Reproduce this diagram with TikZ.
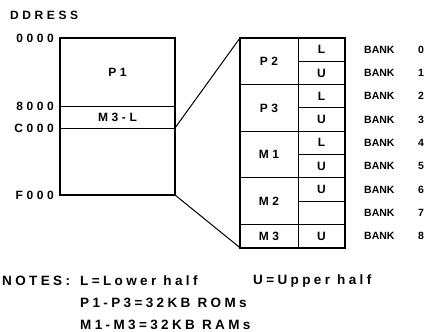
\documentclass[tikz,border=0pt]{standalone}
\usepackage{fontspec}
\setmainfont{Liberation Sans}
\newfontfamily\widefont{Liberation Sans}[LetterSpace=30]
\newfontfamily\notefont{Liberation Sans}[LetterSpace=25]
\usepackage{tikz}
\usetikzlibrary{positioning}
\tikzset{
  cell/.style  ={draw, line width=1pt, inner sep=0pt, outer sep=0pt,
                 font=\widefont\bfseries\fontsize{12}{14}\selectfont},
  frame/.style ={draw, line width=2.2pt},
  zoomln/.style={draw, line width=1pt},
  addr/.style  ={inner sep=0pt, font=\widefont\bfseries\fontsize{12}{14}\selectfont},
  bank/.style  ={anchor=west, inner sep=0pt, font=\bfseries\fontsize{10.5}{12}\selectfont},
  note/.style  ={anchor=west, inner sep=0pt, font=\notefont\bfseries\fontsize{13.5}{15}\selectfont},
}

\begin{document}
\begin{tikzpicture}[x=1pt,y=-1pt]
\useasboundingbox (0,0) rectangle (432,332);
\def\rh{23.3}

% memory map
\node[addr,anchor=west] (addrhd) at (10,15) {DDRESS};
\node[cell,minimum width=115,minimum height=68] (p1) at (117.5,72) {P1};
\node[cell,minimum width=115,minimum height=22,below=0pt of p1] (m3l) {M3-L};
\node[cell,minimum width=115,minimum height=67,below=0pt of m3l] (low) {};
\draw[frame] (p1.north west) rectangle (low.south east);
\node[addr,left=6pt of p1.north west] (a0) {0000};
\node[addr,left=6pt of p1.south west] (a1) {8000};
\node[addr,left=6pt of m3l.south west] (a2) {C000};
\node[addr,left=6pt of low.south west] (a3) {F000};

% banks
\node[cell,minimum width=58,minimum height=2*\rh] (p2) at (269,{38+\rh}) {P2};
\node[cell,minimum width=58,minimum height=2*\rh,below=0pt of p2] (p3) {P3};
\node[cell,minimum width=58,minimum height=2*\rh,below=0pt of p3] (m1) {M1};
\node[cell,minimum width=58,minimum height=2*\rh,below=0pt of m1] (m2) {M2};
\node[cell,minimum width=58,minimum height=\rh,below=0pt of m2] (m3) {M3};
\foreach \i/\h in {0/L,1/U,2/L,3/U,4/L,5/U,6/U,7/,8/U} {
  \node[cell,minimum width=47,minimum height=\rh] (half\i) at (321.5,{38+\rh*\i+\rh/2}) {\h};
  \node[bank] (bank\i) at (364,{38+\rh*\i+\rh/2}) {BANK};
  \node[bank] (num\i) at (418,{38+\rh*\i+\rh/2}) {\i};
}
\draw[frame] (p2.north west) rectangle (half8.south east);

% zoom lines
\draw[zoomln] (m3l.south east) -- (p2.north west);
\draw[zoomln] (low.south east) -- (m3.south west);

% notes
\node[note] (notes) at (2,281) {NOTES:};
\node[note] (lower) at (80,281) {L=Lower half};
\node[note] (upper) at (253,281) {U=Upper half};
\node[note] (roms) at (80,303) {P1-P3=32KB ROMs};
\node[note] (rams) at (80,325) {M1-M3=32KB RAMs};
\end{tikzpicture}
\end{document}
